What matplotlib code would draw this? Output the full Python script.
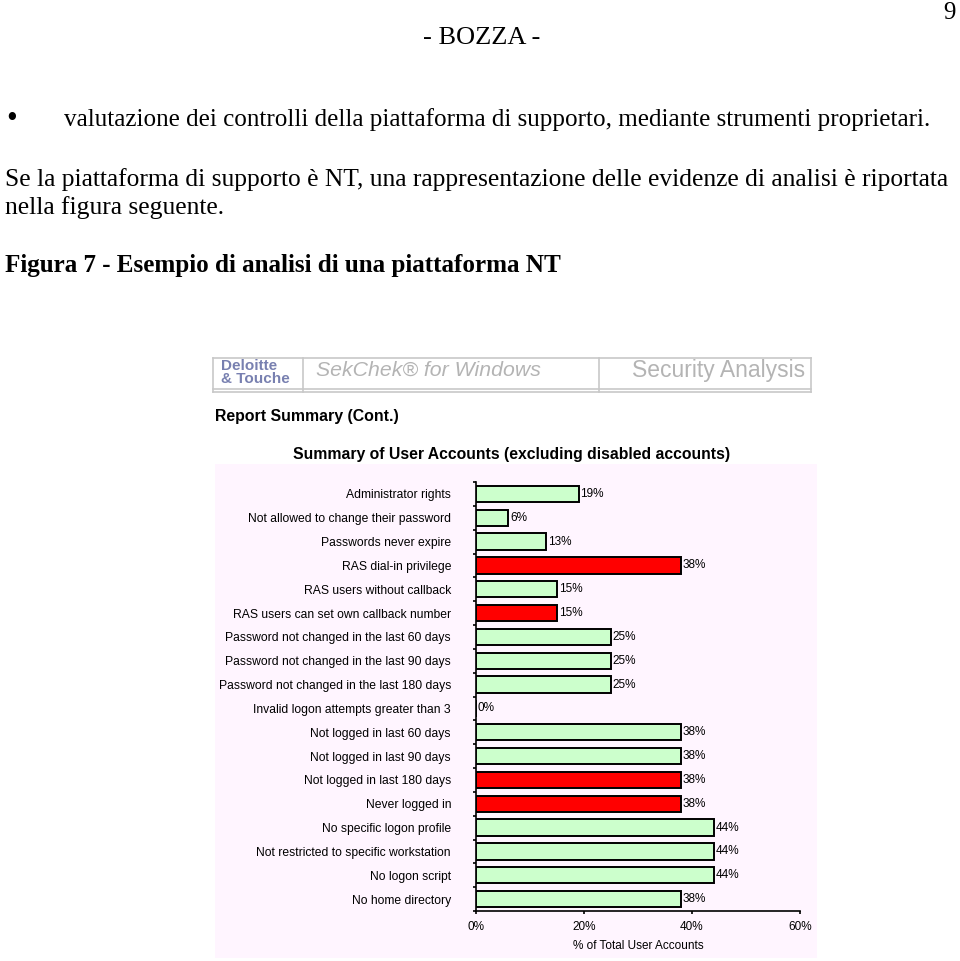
import matplotlib
matplotlib.use("Agg")
import matplotlib.pyplot as plt
from matplotlib.lines import Line2D
from matplotlib.ticker import FixedLocator, PercentFormatter

categories = [
    "Administrator rights",
    "Not allowed to change their password",
    "Passwords never expire",
    "RAS dial-in privilege",
    "RAS users without callback",
    "RAS users can set own callback number",
    "Password not changed in the last 60 days",
    "Password not changed in the last 90 days",
    "Password not changed in the last 180 days",
    "Invalid logon attempts greater than 3",
    "Not logged in last 60 days",
    "Not logged in last 90 days",
    "Not logged in last 180 days",
    "Never logged in",
    "No specific logon profile",
    "Not restricted to specific workstation",
    "No logon script",
    "No home directory",
]
values = [19, 6, 13, 38, 15, 15, 25, 25, 25, 0, 38, 38, 38, 38, 44, 44, 44, 38]
flagged = [False, False, False, True, False, True, False, False, False, False,
           False, False, True, True, False, False, False, False]
x_ticks = [0, 20, 40, 60]

W, H = 960, 961
fig = plt.figure(figsize=(W / 100, H / 100), dpi=100)
fig.patch.set_facecolor("white")

def fx(px):
    return px / W

def fy(py):
    return 1 - py / H

serif = ["Liberation Serif", "DejaVu Serif"]
sans = ["Liberation Sans", "DejaVu Sans"]

# Document text
fig.text(fx(956), fy(13), "9", family=serif, fontsize=18, ha="right", va="center")
fig.text(fx(482), fy(38), "- BOZZA -", family=serif, fontsize=19, ha="center", va="center")
fig.text(fx(6), fy(119), "\u2022", family=serif, fontsize=22, ha="left", va="center")
fig.text(fx(64), fy(120), "valutazione dei controlli della piattaforma di supporto, mediante strumenti proprietari.",
         family=serif, fontsize=18.1, ha="left", va="center")
fig.text(fx(5), fy(180), "Se la piattaforma di supporto \u00e8 NT, una rappresentazione delle evidenze di analisi \u00e8 riportata",
         family=serif, fontsize=18.4, ha="left", va="center")
fig.text(fx(5), fy(208), "nella figura seguente.", family=serif, fontsize=18.4, ha="left", va="center")
fig.text(fx(5), fy(266), "Figura 7 - Esempio di analisi di una piattaforma NT",
         family=serif, fontsize=18.1, fontweight="bold", ha="left", va="center")

# Pink chart background panel
bg = fig.add_axes([fx(215), fy(958), fx(817) - fx(215), fy(464) - fy(958)], zorder=0)
bg.set_facecolor("#fff5ff")
bg.set_xticks([])
bg.set_yticks([])
for s in bg.spines.values():
    s.set_visible(False)

# Header box
box_col = "#c8c8c8"
for (x0, y0, x1, y1) in [(213, 358, 811, 358), (213, 389, 811, 389), (213, 392, 811, 392),
                         (213, 358, 213, 392), (811, 358, 811, 392),
                         (303, 358, 303, 392), (599, 358, 599, 392)]:
    fig.add_artist(Line2D([fx(x0), fx(x1)], [fy(y0), fy(y1)], transform=fig.transFigure,
                          color=box_col, lw=1.2))
fig.text(fx(221), fy(366), "Deloitte", family=sans, fontsize=11, fontweight="bold",
         color="#7880b0", ha="left", va="center")
fig.text(fx(221), fy(379), "& Touche", family=sans, fontsize=11, fontweight="bold",
         color="#7880b0", ha="left", va="center")
fig.text(fx(316), fy(370), "SekChek\u00ae for Windows", family=sans, fontsize=15.3, style="italic",
         color="#b4b4b4", ha="left", va="center")
fig.text(fx(805), fy(370), "Security Analysis", family=sans, fontsize=16.5,
         color="#b4b4b4", ha="right", va="center")

fig.text(fx(215), fy(417), "Report Summary (Cont.)", family=sans, fontsize=11.4, fontweight="bold",
         ha="left", va="center")
fig.text(fx(512), fy(454), "Summary of User Accounts (excluding disabled accounts)", family=sans,
         fontsize=11.3, fontweight="bold", ha="center", va="center")

# Chart axes
ax_l, ax_r, ax_t, ax_b = 476, 800, 482, 911
ax = fig.add_axes([fx(ax_l), fy(ax_b), fx(ax_r) - fx(ax_l), fy(ax_t) - fy(ax_b)], zorder=2)
ax.set_facecolor("none")
ypos = list(range(len(categories)))
colors = ["#ff0000" if f else "#ccffcc" for f in flagged]
ax.barh(ypos, values, height=0.68, color=colors, edgecolor="black", linewidth=1.4, zorder=3)
for y, v in zip(ypos, values):
    ax.text(v + 0.3, y, f"{v}%", family=sans, fontsize=8.5, ha="left", va="center")

ax.set_xlim(0, 60)
ax.set_ylim(len(categories) - 0.5, -0.5)
ax.set_xticks(x_ticks)
ax.xaxis.set_major_formatter(PercentFormatter(decimals=0))
ax.set_yticks(ypos)
ax.set_yticklabels(categories)
ax.yaxis.set_minor_locator(FixedLocator([i - 0.5 for i in range(len(categories) + 1)]))
ax.tick_params(axis="y", which="major", length=0, pad=18, labelsize=8.7)
ax.tick_params(axis="y", which="minor", length=2.5, width=1.2, direction="out")
ax.tick_params(axis="x", which="major", length=2.5, width=1.2, direction="out", pad=5, labelsize=8.5)
for lab in ax.get_yticklabels() + ax.get_xticklabels():
    lab.set_family(sans)
for side in ["top", "right"]:
    ax.spines[side].set_visible(False)
for side in ["left", "bottom"]:
    ax.spines[side].set_linewidth(1.2)
ax.set_xlabel("% of Total User Accounts", family=sans, fontsize=8.5, labelpad=5)

fig.savefig("out.png", dpi=100, facecolor="white")
